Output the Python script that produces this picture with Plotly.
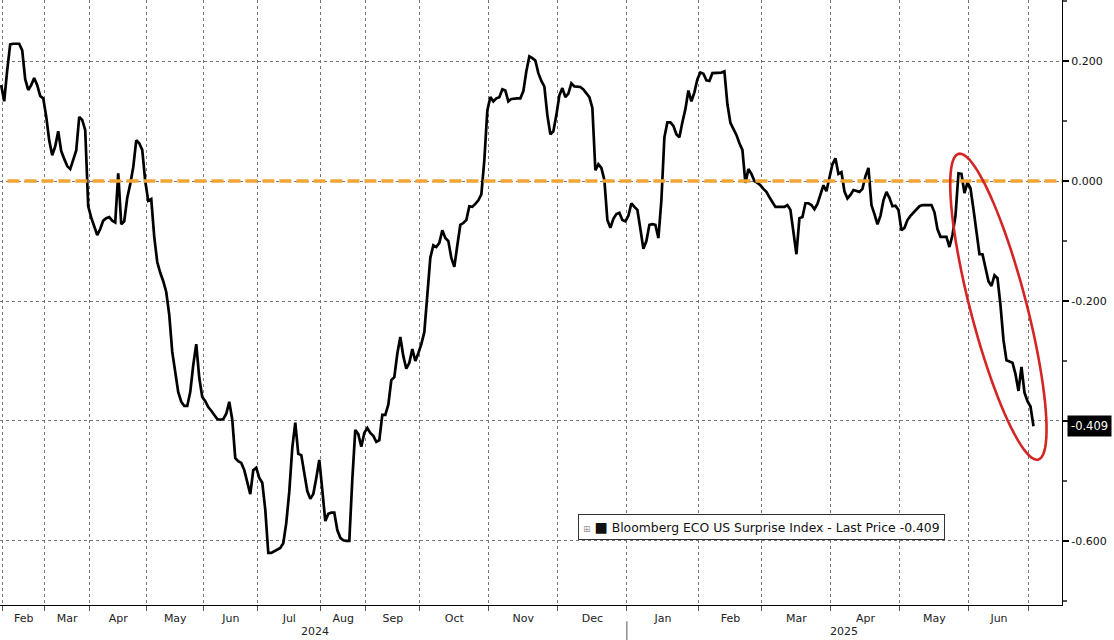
import numpy as np
import plotly.graph_objects as go

# ---------------- data ----------------
series_name = "Bloomberg ECO US Surprise Index - Last Price"
last_price = -0.409

months = ["Jan", "Feb", "Mar", "Apr", "May", "Jun", "Jul", "Aug", "Sep", "Oct", "Nov", "Dec",
          "Jan", "Feb", "Mar", "Apr", "May", "Jun", "Jul"]
years = [2024] * 12 + [2025] * 7
# number of plotted observations falling in each month (x axis is by observation)
obs_per_month = [1, 14, 15, 19, 19, 18, 21, 15, 18, 23, 23, 23, 24, 21, 23, 23, 23, 20, 2]

values = [
    0.160,
    # Feb 2024
    0.133, 0.185, 0.228, 0.229, 0.229, 0.229, 0.218, 0.170, 0.152, 0.160, 0.172, 0.160, 0.142, 0.138,
    # Mar
    0.108, 0.068, 0.043, 0.058, 0.083, 0.050, 0.037, 0.025, 0.020, 0.036, 0.051, 0.107, 0.102, 0.085, -0.042,
    # Apr
    -0.061, -0.075, -0.090, -0.080, -0.066, -0.062, -0.060, -0.066, -0.069, 0.013, -0.072, -0.067, -0.028,
    -0.005, 0.023, 0.068, 0.063, 0.052, 0.000,
    # May
    -0.033, -0.030, -0.093, -0.135, -0.153, -0.167, -0.185, -0.223, -0.285, -0.323, -0.352, -0.368, -0.375,
    -0.375, -0.352, -0.307, -0.272, -0.328, -0.360,
    # Jun
    -0.367, -0.377, -0.383, -0.390, -0.397, -0.398, -0.397, -0.388, -0.368, -0.398, -0.462, -0.467, -0.470,
    -0.482, -0.503, -0.522, -0.482, -0.478,
    # Jul
    -0.495, -0.503, -0.548, -0.620, -0.620, -0.617, -0.615, -0.612, -0.604, -0.570, -0.518, -0.445, -0.403,
    -0.455, -0.457, -0.485, -0.517, -0.530, -0.522, -0.495, -0.465,
    # Aug
    -0.515, -0.567, -0.555, -0.553, -0.553, -0.582, -0.595, -0.599, -0.600, -0.600, -0.498, -0.415, -0.422,
    -0.443, -0.420,
    # Sep
    -0.412, -0.420, -0.425, -0.435, -0.432, -0.390, -0.390, -0.373, -0.332, -0.327, -0.288, -0.260, -0.292,
    -0.313, -0.303, -0.280, -0.300, -0.287,
    # Oct
    -0.272, -0.252, -0.190, -0.128, -0.107, -0.110, -0.103, -0.082, -0.095, -0.100, -0.128, -0.143, -0.107,
    -0.073, -0.070, -0.065, -0.042, -0.043, -0.038, -0.032, -0.022, 0.035, 0.118,
    # Nov
    0.140, 0.133, 0.138, 0.140, 0.153, 0.151, 0.133, 0.137, 0.138, 0.138, 0.138, 0.150, 0.183, 0.208, 0.205,
    0.201, 0.180, 0.167, 0.158, 0.110, 0.078, 0.083, 0.110,
    # Dec
    0.143, 0.155, 0.140, 0.146, 0.163, 0.158, 0.157, 0.157, 0.153, 0.147, 0.140, 0.122, 0.018, 0.028, 0.022,
    0.002, -0.065, -0.078, -0.063, -0.055, -0.053, -0.065, -0.067,
    # Jan 2025
    -0.058, -0.037, -0.043, -0.048, -0.080, -0.113, -0.100, -0.073, -0.072, -0.073, -0.095, -0.032, 0.073,
    0.098, 0.098, 0.092, 0.078, 0.073, 0.098, 0.120, 0.151, 0.133, 0.148, 0.170,
    # Feb
    0.181, 0.179, 0.168, 0.167, 0.180, 0.180, 0.180, 0.181, 0.183, 0.128, 0.097, 0.087, 0.077, 0.063, 0.052,
    -0.003, 0.020, 0.012, 0.000, -0.003, -0.007,
    # Mar
    -0.013, -0.018, -0.027, -0.035, -0.043, -0.043, -0.043, -0.043, -0.040, -0.048, -0.085, -0.122, -0.062,
    -0.060, -0.037, -0.037, -0.040, -0.047, -0.038, -0.023, -0.007, -0.017, 0.004,
    # Apr
    0.028, 0.038, 0.012, 0.015, -0.017, -0.029, -0.023, -0.015, -0.017, -0.018, -0.013, 0.008, 0.022, -0.040,
    -0.055, -0.072, -0.058, -0.032, -0.018, -0.028, -0.042, -0.041, -0.048,
    # May
    -0.082, -0.078, -0.065, -0.058, -0.053, -0.047, -0.042, -0.040, -0.040, -0.040, -0.040, -0.052, -0.080,
    -0.093, -0.093, -0.093, -0.110, -0.090, -0.058, 0.013, 0.012, -0.020, -0.002,
    # Jun
    -0.012, -0.047, -0.085, -0.122, -0.122, -0.142, -0.167, -0.175, -0.157, -0.162, -0.207, -0.265, -0.299,
    -0.301, -0.303, -0.322, -0.350, -0.310, -0.353, -0.367,
    # Jul
    -0.376, -0.409,
]

y_tick_vals = [-0.6, -0.4, -0.2, 0.0, 0.2]
y_tick_text = ["-0.600", "", "-0.200", "0.000", "0.200"]
y_minor_vals = [-0.7, -0.5, -0.3, -0.1, 0.1, 0.3]
reference_level = 0.0

# ---------------- derived axis positions ----------------
x = np.arange(len(values))
ends = np.cumsum(obs_per_month) - 0.5
starts = ends - np.array(obs_per_month)
centers = (starts + ends) / 2
labeled = list(range(1, len(months) - 1))          # full months only
boundaries = list(starts[1:])                       # month starts (Feb 2024 .. Jul 2025)
x_range = [-0.4, len(values) + 8.5]
year_split = starts[12]                              # 1 Jan 2025
year_2024_center = (starts[1] + year_split) / 2
year_2025_center = (year_split + x_range[1]) / 2

FONT = "DejaVu Sans"

fig = go.Figure()
fig.add_trace(go.Scatter(
    x=x, y=values, mode="lines", name=series_name,
    line=dict(color="#000000", width=2.7), showlegend=False,
))

# zero reference line (orange dashed)
fig.add_shape(type="line", xref="paper", x0=0.007, x1=1, yref="y", y0=reference_level, y1=reference_level,
              line=dict(color="#F0A535", width=3.5, dash="12px,5px"), layer="above")

# red highlight ellipse around the latest slide (drawn in pixel space, tilted)
t = np.linspace(0, 2 * np.pi, 90)
a_px, b_px, ang = 158.0, 28.0, np.deg2rad(14.6)
ux, uy = np.sin(ang), -np.cos(ang)
vx, vy = np.cos(ang), np.sin(ang)
px = a_px * np.cos(t) * ux + b_px * np.sin(t) * vx
py = a_px * np.cos(t) * uy + b_px * np.sin(t) * vy
path = "M " + " L ".join(f"{u:.2f},{v:.2f}" for u, v in zip(px, py)) + " Z"
fig.add_shape(type="path", path=path, xref="x", yref="y",
              xsizemode="pixel", ysizemode="pixel", xanchor=332.3, yanchor=-0.2095,
              line=dict(color="#D42525", width=2.6), layer="above")

# year separator tick
fig.add_shape(type="line", xref="x", x0=year_split, x1=year_split, yref="paper", y0=-0.027, y1=-0.062,
              line=dict(color="#555555", width=1))

annotations = [
    dict(text="2024", x=year_2024_center, y=-0.044, xref="x", yref="paper", showarrow=False,
         font=dict(family=FONT, size=11, color="#222222"), yanchor="middle"),
    dict(text="2025", x=year_2025_center, y=-0.044, xref="x", yref="paper", showarrow=False,
         font=dict(family=FONT, size=11, color="#222222"), yanchor="middle"),
    # last price tag
    dict(text=f"{last_price:.3f}", x=1, xref="paper", xanchor="left", xshift=5,
         y=last_price, yref="y", yanchor="middle", showarrow=False,
         bgcolor="#000000", font=dict(family=FONT, size=11.5, color="#FFFFFF"), borderpad=3),
    # legend box
    dict(text=("<span style='color:#999999;font-size:9px'>⊞</span> "
               "<span style='font-size:14px'>■</span> "
               f"{series_name} {last_price:.3f}"),
         x=0.7166, y=0.129, xref="paper", yref="paper", showarrow=False,
         xanchor="center", yanchor="middle",
         font=dict(family=FONT, size=12.4, color="#111111"),
         bordercolor="#333333", borderwidth=1, borderpad=4, bgcolor="#FFFFFF"),
]

fig.update_layout(
    width=1114, height=640,
    margin=dict(l=0, r=52, t=0, b=35),
    paper_bgcolor="#FFFFFF", plot_bgcolor="#FFFFFF",
    font=dict(family=FONT, size=11, color="#111111"),
    annotations=annotations,
    showlegend=False,
)

fig.update_xaxes(
    range=x_range,
    tickmode="array", tickvals=[centers[k] for k in labeled], ticktext=[months[k] for k in labeled],
    ticks="", showgrid=False, ticklabelstandoff=3,
    showline=True, linecolor="#000000", linewidth=1.2,
    zeroline=False,
    minor=dict(tickmode="array", tickvals=boundaries, ticks="outside", ticklen=5, tickcolor="#555555",
               showgrid=True, gridcolor="#777777", griddash="dot", gridwidth=1),
    tickfont=dict(family=FONT, size=11, color="#222222"),
)

fig.update_yaxes(
    side="right", range=[-0.707, 0.302],
    tickmode="array", tickvals=y_tick_vals, ticktext=y_tick_text,
    ticks="outside", ticklen=6, tickcolor="#000000", tickwidth=1.5,
    showgrid=True, gridcolor="#777777", griddash="dot", gridwidth=1,
    showline=True, linecolor="#000000", linewidth=1.2, zeroline=False,
    minor=dict(tickmode="array", tickvals=y_minor_vals, ticks="outside", ticklen=4,
               tickcolor="#555555", showgrid=False),
    tickfont=dict(family=FONT, size=11, color="#111111"),
)

fig.write_html("out.html", config={"displayModeBar": False},
               post_script="document.body.style.margin='0px';")
